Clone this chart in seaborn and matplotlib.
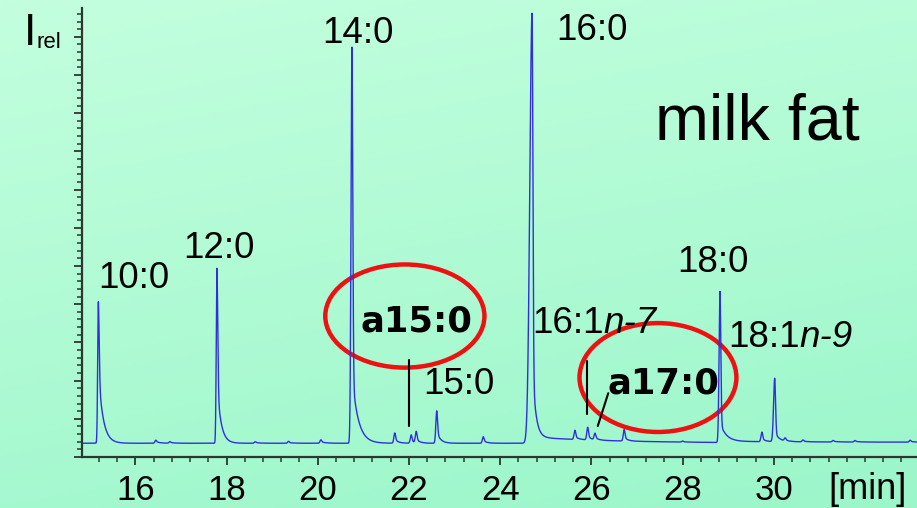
import numpy as np
import pandas as pd
import matplotlib
matplotlib.use("Agg")
import matplotlib.pyplot as plt
from matplotlib.patches import Ellipse
from matplotlib.colors import LinearSegmentedColormap
from matplotlib.ticker import MultipleLocator, NullFormatter
import seaborn as sns

# ---- chromatogram peak table (retention time in min, relative intensity) ----
peak_time   = [15.19, 16.45, 16.76, 17.79, 18.63, 19.36, 20.07, 20.75, 21.69, 22.05,
               22.16, 22.61, 23.63, 24.70, 25.64, 25.92, 26.08, 26.72, 28.00, 28.82,
               29.74, 30.02, 30.25, 30.64, 31.30, 31.78, 32.99]
peak_height = [3.71, 0.08, 0.04, 4.59, 0.04, 0.05, 0.09, 10.37, 0.27, 0.22,
               0.30, 0.85, 0.17, 11.10, 0.24, 0.33, 0.17, 0.30, 0.03, 3.93,
               0.25, 1.66, 0.08, 0.05, 0.04, 0.04, 0.05]
peak_tail   = [1.90, 0.04, 0.02, 1.60, 0.02, 0.02, 0.04, 1.84, 0.10, 0.08,
               0.10, 0.30, 0.07, 2.10, 0.08, 0.10, 0.06, 0.10, 0.01, 0.50,
               0.08, 0.25, 0.03, 0.02, 0.02, 0.02, 0.02]
peak_tau    = [0.10, 0.10, 0.10, 0.085, 0.10, 0.10, 0.10, 0.13, 0.08, 0.06,
               0.08, 0.08, 0.08, 0.07, 0.08, 0.08, 0.08, 0.08, 0.10, 0.13,
               0.08, 0.10, 0.10, 0.10, 0.10, 0.10, 0.10]
peak_front  = [0.015, 0.02, 0.02, 0.015, 0.02, 0.02, 0.02, 0.02, 0.02, 0.02,
               0.02, 0.02, 0.02, 0.05, 0.02, 0.02, 0.02, 0.02, 0.02, 0.02,
               0.02, 0.025, 0.02, 0.02, 0.02, 0.02, 0.02]
peak_slow     = [0, 0, 0, 0, 0, 0, 0, 0, 0, 0, 0, 0, 0, 0.16, 0, 0, 0, 0, 0, 0.03,
                 0, 0, 0, 0, 0, 0, 0]
peak_slow_tau = [1, 1, 1, 1, 1, 1, 1, 1, 1, 1, 1, 1, 1, 2.0, 1, 1, 1, 1, 1, 30.0,
                 1, 1, 1, 1, 1, 1, 1]
baseline = 0.36

# labelled peaks: text and label position (min, I_rel)
labels      = ["10:0", "12:0", "14:0", "16:0", "15:0", "18:0"]
label_x     = [15.97, 17.84, 20.88, 26.02, 23.10, 28.67]
label_y     = [4.42, 5.21, 10.84, 10.91, 1.65, 4.84]

x_ticks = [16, 18, 20, 22, 24, 26, 28, 30]
x_range = (14.831, 33.14)
y_range = (0.0, 11.754)


def peak_shape(t, t0, h, tail, tau, front, slow, slow_tau):
    dt = t - t0
    left = np.exp(-dt ** 2 / (2 * front ** 2))
    core = np.where(dt < 0, left, np.exp(-dt ** 2 / (2 * 0.018 ** 2)))
    decay = np.where(dt < 0, left, np.exp(-np.clip(dt, 0, None) / tau))
    drift = np.where(dt < 0, left, np.exp(-np.clip(dt, 0, None) / slow_tau))
    return (h - tail) * core + tail * decay + slow * drift


t = np.linspace(x_range[0], x_range[1], 8000)
signal = np.full_like(t, baseline)
for p in zip(peak_time, peak_height, peak_tail, peak_tau, peak_front,
             peak_slow, peak_slow_tau):
    signal += peak_shape(t, *p)
trace = pd.DataFrame({"time": t, "intensity": signal})

sns.set_theme(style="ticks")
plt.rcParams["font.family"] = ["Liberation Sans", "DejaVu Sans"]
plt.rcParams["text.color"] = "black"
plt.rcParams["xtick.labelcolor"] = "black"

W, H = 917, 508
fig = plt.figure(figsize=(W / 100, H / 100), dpi=100)

# mint background wash
bg = fig.add_axes([0, 0, 1, 1], zorder=-10)
yy, xx = np.mgrid[0:1:200j, 0:1:200j]
grad = 0.75 * yy + 0.25 * xx
cmap = LinearSegmentedColormap.from_list("mint", ["#c3ffde", "#9bf6ca"])
bg.imshow(grad, cmap=cmap, aspect="auto", extent=[0, 1, 0, 1], origin="upper")
bg.set_axis_off()

ax = fig.add_axes([82 / W, (H - 457) / H, (W - 82) / W, (457 - 8) / H])
ax.set_facecolor("none")
sns.lineplot(data=trace, x="time", y="intensity", ax=ax, estimator=None,
             sort=False, color="#3030d8", linewidth=1.0)
ax.set_xlim(*x_range)
ax.set_ylim(*y_range)
ax.set_xlabel("")
ax.set_ylabel("")

for side in ("top", "right"):
    ax.spines[side].set_visible(False)
for side in ("left", "bottom"):
    ax.spines[side].set_color("#2e3630")
    ax.spines[side].set_linewidth(1.6)

ax.set_xticks(x_ticks)
ax.set_xticklabels([str(v) for v in x_ticks])
ax.xaxis.set_minor_locator(MultipleLocator(0.4))
ax.yaxis.set_major_locator(MultipleLocator(1.0))
ax.yaxis.set_minor_locator(MultipleLocator(0.2))
ax.yaxis.set_major_formatter(NullFormatter())
ax.tick_params(axis="both", which="major", direction="out", length=5.5,
               width=1.3, color="#2e3630")
ax.tick_params(axis="both", which="minor", direction="out", length=3.5,
               width=1.1, color="#2e3630")
ax.tick_params(axis="x", which="major", labelsize=25, pad=7, labelcolor="black")

# peak labels
for txt, xv, yv in zip(labels, label_x, label_y):
    ax.text(xv, yv, txt, fontsize=26.5, ha="center", va="baseline", color="black",
            clip_on=False)

# unsaturated acids: number in upright, position in italic
for base, pos, xv, yv in [("16:1", "n-7", 24.70, 3.25), ("18:1", "n-9", 29.00, 2.88)]:
    t1 = ax.text(xv, yv, base, fontsize=26.5, ha="left", va="baseline",
                 color="black", clip_on=False)
    ax.annotate(pos, xy=(1, 0), xycoords=t1, fontsize=26.5, style="italic",
                ha="left", va="bottom", color="black", annotation_clip=False)

# anteiso acids, circled
ax.text(22.16, 3.28, "a15:0", fontsize=25.5, fontweight="bold", ha="center",
        va="baseline", family="DejaVu Sans", color="black")
ax.text(27.59, 1.67, "a17:0", fontsize=25.5, fontweight="bold", ha="center",
        va="baseline", family="DejaVu Sans", color="black")
ax.add_patch(Ellipse((21.91, 3.69), 3.49, 2.70, fill=False, ec="#ee1111",
                     lw=3.2, clip_on=False))
ax.add_patch(Ellipse((27.46, 2.08), 3.44, 2.85, fill=False, ec="#ee1111",
                     lw=3.2, clip_on=False))

# leader lines to the anteiso peaks
ax.plot([peak_time[9] - 0.05] * 2, [0.81, 2.54], color="black", lw=1.5)
ax.plot([peak_time[15] - 0.01] * 2, [1.13, 2.52], color="black", lw=1.5)
ax.plot([peak_time[16] + 0.06, peak_time[16] + 0.29], [0.81, 1.67], color="black", lw=1.5)

# titles and axis names
fig.text(757 / W, 1 - 140 / H, "milk fat", fontsize=46.5, ha="center", va="baseline")
fig.text(24 / W, 1 - 45 / H, "I", fontsize=32, ha="left", va="baseline")
fig.text(36 / W, 1 - 47.5 / H, "rel", fontsize=16, ha="left", va="baseline")
fig.text(868 / W, 1 - 499 / H, "[min]", fontsize=26, ha="center", va="baseline")

fig.savefig("out.png", dpi=100)
